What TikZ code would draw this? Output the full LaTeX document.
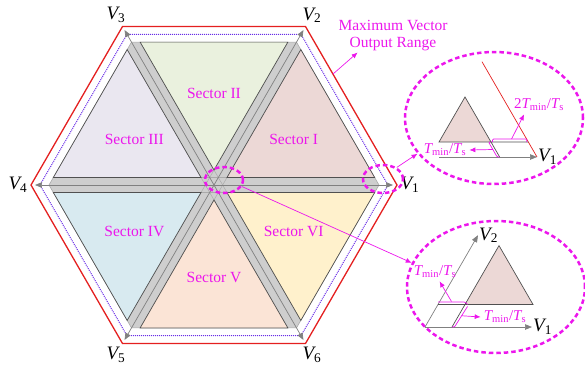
\documentclass[tikz,border=0pt]{standalone}
\usepackage{fontspec}
\setmainfont{Liberation Serif}
\usetikzlibrary{arrows.meta,calc,shapes.geometric}
\definecolor{hexred}{RGB}{228,32,32}
\definecolor{rangeviolet}{RGB}{105,45,230}
\definecolor{mag}{RGB}{236,22,236}
\definecolor{axisgray}{RGB}{128,128,128}
\definecolor{bandgray}{RGB}{206,206,206}
\definecolor{bandedge}{RGB}{170,170,170}
\definecolor{ink}{RGB}{80,80,80}
\definecolor{secone}{RGB}{236,216,214}
\definecolor{sectwo}{RGB}{234,241,222}
\definecolor{secthree}{RGB}{234,231,240}
\definecolor{secfour}{RGB}{216,234,240}
\definecolor{secfive}{RGB}{251,228,214}
\definecolor{secsix}{RGB}{255,241,204}
\newcommand{\Vsub}[1]{{\itshape V}\textsubscript{#1}}
\newcommand{\tratio}{{\itshape T}\textsubscript{min}/{\itshape T}\textsubscript{s}}

\begin{document}
\begin{tikzpicture}[
  x=1pt,y=1pt,
  font=\fontsize{15.5}{17}\selectfont,
  vecarrow/.style={-{Triangle[length=7pt,width=5.5pt]},draw=axisgray,
                   line width=.7pt},
  vlabel/.style={inner sep=1pt,font=\fontsize{19}{20}\selectfont},
  seclabel/.style={text=mag},
  zoomring/.style={ellipse,draw=mag,line width=2.5pt,
                   dash pattern=on 4.5pt off 3pt,inner sep=0pt},
  magarrow/.style={-{Latex[length=6pt,width=5pt]},draw=mag,line width=.7pt},
  bracket/.style={draw=mag,line width=.7pt,rounded corners=1pt},
  ratio/.style={text=mag,inner sep=3pt,font=\fontsize{15}{16}\selectfont},
  sub/.style={draw=ink,line width=.7pt},
  subtri/.style={fill=secone,draw=ink,line width=.7pt}
]
\useasboundingbox (-214,-191) rectangle (371,185);
\def\Rin{165}
\def\w{7.5}
\def\s{8.66}

% Outer limit and maximum output range.
\draw[hexred,line width=1.3pt] (0:183)
  \foreach \a in {60,120,...,300}{ -- (\a:183)} -- cycle;
\draw[rangeviolet,densely dotted,line width=1pt] (0:174)
  \foreach \a in {60,120,...,300}{ -- (\a:174)} -- cycle;

% Gray bands along the three diameters.
\filldraw[fill=bandgray,draw=bandedge,line width=.6pt] (0:\Rin)
  \foreach \a in {60,120,...,300}{ -- (\a:\Rin)} -- cycle;
\foreach \b in {0,60,120}{
  \draw[bandedge,line width=.5pt] ($(\b:\Rin)+({\b+120}:\s)$)
    -- ($({\b+180}:\Rin)+({\b+60}:\s)$);
  \draw[bandedge,line width=.5pt] ($(\b:\Rin)+({\b-120}:\s)$)
    -- ($({\b+180}:\Rin)+({\b+300}:\s)$);
}

% Six sectors.
\foreach \a/\col/\rn in {0/secone/I,60/sectwo/II,120/secthree/III,
                         180/secfour/IV,240/secfive/V,300/secsix/VI}{
  \filldraw[fill=\col,draw=ink,line width=.7pt] ({\a+30}:{2*\w})
    -- ($(\a:\Rin)+({\a+120}:\s)$)
    -- ($({\a+60}:\Rin)+({\a-60}:\s)$) -- cycle;
  \node[seclabel] (sec\rn) at ({\a+30}:92) {Sector \rn};
}

% Basic voltage vectors.
\coordinate (o) at (0,0);
\foreach \a/\k in {0/1,60/2,120/3,180/4,240/5,300/6}{
  \coordinate (tip\k) at (\a:179);
  \draw[vecarrow] (o) -- (tip\k);
  \node[vlabel] (v\k) at (\a:196) {\Vsub{\k}};
}

% Range label.
\node[text=mag,align=center,inner sep=1pt] (maxrange) at (179,149)
  {Maximum Vector\\Output Range};
\coordinate (edgept) at ($(60:183)!.3!(0:183)$);
\draw[magarrow] (edgept) -- (maxrange.205);

% Zoomed regions.
\node[zoomring,minimum width=38,minimum height=26] (ringc) at (10,5) {};
\node[zoomring,minimum width=40,minimum height=28] (ringv) at (169,6) {};
\node[zoomring,minimum width=178,minimum height=132] (insetA) at (280,67) {};
\node[zoomring,minimum width=178,minimum height=132] (insetB) at (282,-102) {};
\draw[magarrow] (ringv.40) -- (insetA.205);
\draw[magarrow] (ringc.-20) -- (insetB.164);

% Inset A: sector I near V1.
\coordinate (a0) at (225,28);
\coordinate (a1) at (323,28);
\coordinate (ared) at ($(a1)+(120:110)$);
\coordinate (ta1) at (225,43);
\coordinate (ta2) at (277,43);
\coordinate (ta3) at (251,88);
\coordinate (ab) at ($(a1)+(120:17.32)$);
\coordinate (ac) at ($(ta2)+(-60:17.32)$);
\draw[hexred,line width=.7pt] (a1) -- (ared);
\draw[vecarrow] (a0) -- (a1);
\node[vlabel,anchor=west] (av1) at (a1) {\Vsub{1}};
\draw[subtri] (ta1) -- (ta2) -- (ta3) -- cycle;
\draw[sub] (ta2) -- (ab);
\draw[sub] (ta2) -- (ac);
\draw[bracket] ($(ta2)+(1.5,0)$) |- ($(ab)+(-1.5,3)$) -- ++(0,-3);
\draw[bracket] (ta2) -- ++(-2.5,0) -- ($(ac)+(-2.5,0)$) -- (ac);
\node[ratio] (lbA2) at (325,80) {2\tratio};
\node[ratio] (lbA1) at (231,35) {\tratio};
\draw[magarrow] ($(ta2)!.55!(ab)+(0,3)$) -- (lbA2.212);
\draw[magarrow] ($(ta2)!.5!(ac)+(-2.5,0)$) -- (lbA1.east);

% Inset B: around the centre.
\coordinate (b0) at (211,-142);
\coordinate (b1) at (318,-142);
\coordinate (b2) at ($(b0)+(60:106)$);
\coordinate (p) at ($(b0)+(27,0)$);
\coordinate (q) at ($(b0)+(60:26)$);
\coordinate (r) at ($(p)+(60:26)$);
\coordinate (tb2) at ($(r)+(68,0)$);
\coordinate (tb3) at ($(r)+(60:68)$);
\draw[vecarrow] (b0) -- (b1);
\draw[vecarrow] (b0) -- (b2);
\node[vlabel,anchor=west] (bv1) at (b1) {\Vsub{1}};
\node[vlabel,anchor=west] (bv2) at (b2) {\Vsub{2}};
\draw[subtri] (r) -- (tb2) -- (tb3) -- cycle;
\draw[sub] (q) -- (r) -- (p);
\draw[bracket] ($(q)+(0,2.5)$) -- ($(r)+(0,2.5)$) -- ++(2.5,-2.5);
\draw[bracket] ($(r)+(2.5,-2)$) -- ($(p)+(2.5,0)$) -- (p);
\node[ratio] (lbB1) at (221,-87) {\tratio};
\node[ratio] (lbB2) at (291,-132) {\tratio};
\draw[magarrow] ($(q)!.5!(r)+(0,3)$) -- (lbB1.296);
\draw[magarrow] ($(p)!.5!(r)+(3,0)$) -- (lbB2.west);

\end{tikzpicture}
\end{document}
